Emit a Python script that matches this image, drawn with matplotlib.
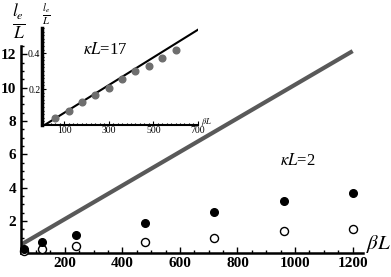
import numpy as np
import matplotlib.pyplot as plt
from matplotlib.ticker import MultipleLocator, FixedLocator

plt.rcParams['font.family'] = ['Liberation Serif', 'DejaVu Serif']
plt.rcParams['mathtext.fontset'] = 'stix'

# main plot data (kappa L = 2)
beta_main = [60, 120, 240, 480, 720, 960, 1200]
filled_vals = [0.35, 0.72, 1.15, 1.9, 2.56, 3.22, 3.7]
open_vals = [0.2, 0.32, 0.5, 0.74, 0.98, 1.4, 1.52]
line_x = [50, 1200]
line_y = [0.6, 12.2]

# inset data (kappa L = 17)
beta_inset = [60, 120, 180, 240, 300, 360, 420, 480, 540, 600]
inset_vals = [0.04, 0.08, 0.125, 0.165, 0.205, 0.257, 0.30, 0.326, 0.37, 0.417]
inset_line_x = [0, 700]
inset_line_y = [-0.01, 0.53]

fig = plt.figure(figsize=(3.91, 2.77), dpi=100)
ax = fig.add_axes([0.0537, 0.0866, 0.874, 0.747])

ax.plot(line_x, line_y, color='#595959', lw=3, solid_capstyle='butt', zorder=2)
ax.plot(beta_main, open_vals, 'o', mfc='white', mec='black', mew=1.0, ms=5.8,
        clip_on=False, zorder=3)
ax.plot(beta_main, filled_vals, 'o', color='black', ms=5.5, clip_on=False, zorder=4)

ax.set_xlim(48, 1235)
ax.set_ylim(0.08, 12.5)
for s in ['top', 'right']:
    ax.spines[s].set_visible(False)
for s in ['left', 'bottom']:
    ax.spines[s].set_linewidth(1.8)
ax.xaxis.set_major_locator(FixedLocator([200, 400, 600, 800, 1000, 1200]))
ax.xaxis.set_minor_locator(MultipleLocator(50))
ax.yaxis.set_major_locator(FixedLocator([2, 4, 6, 8, 10, 12]))
ax.yaxis.set_minor_locator(MultipleLocator(0.5))
ax.tick_params(which='both', direction='in', labelsize=11, width=1)
ax.tick_params(which='major', length=4)
ax.tick_params(which='minor', length=2)
ax.tick_params(axis='x', pad=3)
for lab in ax.get_xticklabels() + ax.get_yticklabels():
    lab.set_fontweight('bold')

fig.text(0.048, 0.99, r'$\frac{l_e}{L}$', fontsize=18, ha='center', va='top')
fig.text(0.935, 0.12, r'$\beta L$', fontsize=15, ha='left', va='center')
fig.text(0.715, 0.42, r'$\kappa L$=2', fontsize=12, ha='left', va='center')

# inset
ax2 = fig.add_axes([0.107, 0.549, 0.399, 0.350])
ax2.plot(inset_line_x, inset_line_y, color='black', lw=1.5, zorder=2)
ax2.plot(beta_inset, inset_vals, 'o', color='#6e6e6e', ms=4.8, zorder=3)
ax2.set_xlim(0, 700)
ax2.set_ylim(0, 0.54)
for s in ['top', 'right']:
    ax2.spines[s].set_visible(False)
ax2.spines['left'].set_linewidth(2.5)
ax2.spines['bottom'].set_linewidth(1.5)
ax2.xaxis.set_major_locator(FixedLocator([100, 300, 500, 700]))
ax2.xaxis.set_minor_locator(MultipleLocator(20))
ax2.yaxis.set_major_locator(FixedLocator([0.2, 0.4]))
ax2.yaxis.set_minor_locator(MultipleLocator(0.02))
ax2.tick_params(which='both', direction='in', labelsize=7, width=0.8, pad=1)
ax2.tick_params(which='major', length=3)
ax2.tick_params(which='minor', length=1.5)
ax2.text(185, 0.42, r'$\kappa L$=17', fontsize=12, ha='left', va='center')
fig.text(0.515, 0.56, r'$\beta L$', fontsize=6, ha='left', va='center')
fig.text(0.12, 0.995, r'$\frac{l_e}{L}$', fontsize=11, ha='center', va='top',
         zorder=10)

fig.savefig('out.png', dpi=100)
